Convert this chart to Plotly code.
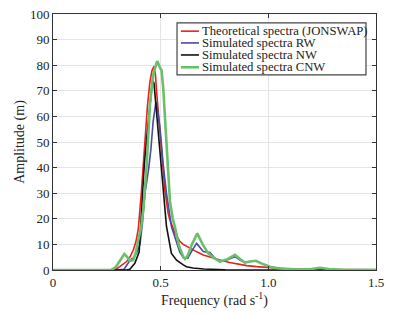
import plotly.graph_objects as go

# ---- data ----
red_x = [0, 0.25, 0.288, 0.31, 0.342, 0.357, 0.373, 0.385, 0.396, 0.41, 0.419, 0.427, 0.439, 0.45, 0.46,
         0.469, 0.476, 0.481, 0.492, 0.504, 0.512, 0.52, 0.535, 0.543, 0.566, 0.589, 0.605, 0.636, 0.67,
         0.698, 0.74, 0.775, 0.82, 0.852, 0.9, 0.945, 1.0, 1.05, 1.1, 1.2, 1.3, 1.5]
red_y = [0, 0, 0, 1.3, 3.3, 5, 7.8, 11, 16, 30, 41, 52.7, 64.5, 73.5, 78,
         79.6, 76, 69.7, 58, 45, 38, 31, 22, 19.5, 14.5, 11.2, 10, 8.5, 7,
         5.9, 4.7, 3.9, 2.9, 2.3, 1.7, 1.3, 0.9, 0.6, 0.4, 0.2, 0.1, 0.05]

blue_x = [0, 0.3, 0.33, 0.345, 0.354, 0.365, 0.373, 0.388, 0.404, 0.415, 0.427, 0.445, 0.455, 0.465, 0.478,
          0.487, 0.497, 0.512, 0.527, 0.55, 0.566, 0.589, 0.605, 0.626, 0.645, 0.667, 0.698, 0.729, 0.75,
          0.775, 0.81, 0.845, 0.87, 0.891, 0.915, 0.942, 0.97, 1.007, 1.053, 1.1, 1.2, 1.24, 1.3, 1.5]
blue_y = [0, 0, 0.3, 2.5, 3.3, 4.3, 4.6, 6.5, 10, 18, 30, 40, 47.5, 58, 65.7,
          62, 55.3, 41, 30, 17, 13, 7, 4.8, 4.6, 7.5, 10.4, 7.2, 6.8, 4.8,
          3.3, 4, 5.2, 3.8, 2.9, 3.3, 3.6, 2.5, 1.3, 0.6, 0.3, 0.2, 0.5, 0.2, 0.05]

black_x = [0, 0.34, 0.357, 0.38, 0.40, 0.407, 0.419, 0.424, 0.435, 0.45, 0.462, 0.469, 0.481, 0.497,
           0.512, 0.527, 0.55, 0.574, 0.605, 0.62, 0.65, 0.7, 0.8, 0.9, 1.5]
black_y = [0, 0, 0.3, 2.6, 7, 17, 30, 41, 51.4, 65.7, 74, 73, 61.8, 45,
           30, 17, 6.5, 3.8, 2, 1.3, 0.8, 0.4, 0.1, 0.05, 0]

green_x = [0, 0.25, 0.272, 0.29, 0.303, 0.318, 0.331, 0.345, 0.357, 0.373, 0.385, 0.396, 0.41, 0.42,
           0.435, 0.45, 0.465, 0.476, 0.484, 0.5, 0.504, 0.512, 0.527, 0.535, 0.543, 0.556, 0.566, 0.585,
           0.605, 0.613, 0.625, 0.645, 0.67, 0.695, 0.721, 0.75, 0.775, 0.81, 0.845, 0.87, 0.891, 0.915,
           0.942, 0.97, 1.007, 1.053, 1.1, 1.15, 1.2, 1.24, 1.28, 1.35, 1.5]
green_y = [0, 0, 0.1, 1, 2.6, 4.5, 6.2, 5, 3.6, 3.9, 7, 11.7, 17, 24,
           41, 64.5, 76, 79.5, 81.6, 78.5, 78, 71, 51.4, 38, 27, 20, 17, 9.5,
           5.2, 4.3, 5.5, 10, 14.3, 10, 6.5, 4.5, 3.3, 4.2, 5.9, 4.2, 2.9, 3.3,
           3.6, 2.5, 1.3, 0.6, 0.3, 0.2, 0.4, 0.9, 0.4, 0.1, 0.05]

names = ["Theoretical spectra (JONSWAP)", "Simulated spectra RW",
         "Simulated spectra NW", "Simulated spectra CNW"]
colors = ["#e8211e", "#4a4a9e", "#111111", "#6abf6a"]
widths = [1.6, 1.6, 1.6, 2.6]

x_ticks = [0, 0.5, 1.0, 1.5]
x_tick_text = ["0", "0.5", "1.0", "1.5"]
y_ticks = list(range(0, 101, 10))

FONT = "Liberation Serif"

fig = go.Figure()
series = [(red_x, red_y), (blue_x, blue_y), (black_x, black_y), (green_x, green_y)]
for (xs, ys), n, c, w in zip(series, names, colors, widths):
    fig.add_trace(go.Scatter(x=xs, y=ys, mode="lines", name=n,
                             line=dict(color=c, width=w), showlegend=False))

# manual legend (compact, like the reference)
lx0, lx1, ly0, ly1 = 0.384, 0.969, 0.762, 0.965
fig.add_shape(type="rect", xref="paper", yref="paper", x0=lx0, x1=lx1, y0=ly0, y1=ly1,
              line=dict(color="#444444", width=1.2), fillcolor="white", layer="above")
row_y = [0.933, 0.887, 0.840, 0.792]
for ry, n, c, w in zip(row_y, names, colors, widths):
    fig.add_shape(type="line", xref="paper", yref="paper", x0=0.396, x1=0.452, y0=ry, y1=ry,
                  line=dict(color=c, width=w), layer="above")
    fig.add_annotation(xref="paper", yref="paper", x=0.459, y=ry, text=n, showarrow=False,
                       xanchor="left", yanchor="middle", borderpad=0,
                       font=dict(family=FONT, size=12.7, color="#222222"))

axis_common = dict(showline=True, linecolor="#333333", linewidth=1, mirror="ticks",
                   ticks="inside", ticklen=4, tickcolor="#333333", automargin=False,
                   ticklabeloverflow="allow",
                   showgrid=True, gridcolor="#e4e4e4", gridwidth=1, zeroline=False,
                   tickfont=dict(family=FONT, size=13, color="#222222"))

fig.update_xaxes(range=[0, 1.5], tickvals=x_ticks, ticktext=x_tick_text,
                 title=dict(text="Frequency (rad s<sup>-1</sup>)",
                            font=dict(family=FONT, size=14, color="#222222"), standoff=6),
                 **axis_common)
fig.update_yaxes(range=[0, 100], tickvals=y_ticks,
                 title=dict(text="Amplitude (m)",
                            font=dict(family=FONT, size=14, color="#222222"), standoff=2),
                 **axis_common)

# page body adds an 8px offset, so the figure is sized/margined to compensate
fig.update_layout(width=393, height=307, margin=dict(l=45, r=25, t=6, b=45),
                  paper_bgcolor="white", plot_bgcolor="white",
                  font=dict(family=FONT))

fig.write_html("out.html")
